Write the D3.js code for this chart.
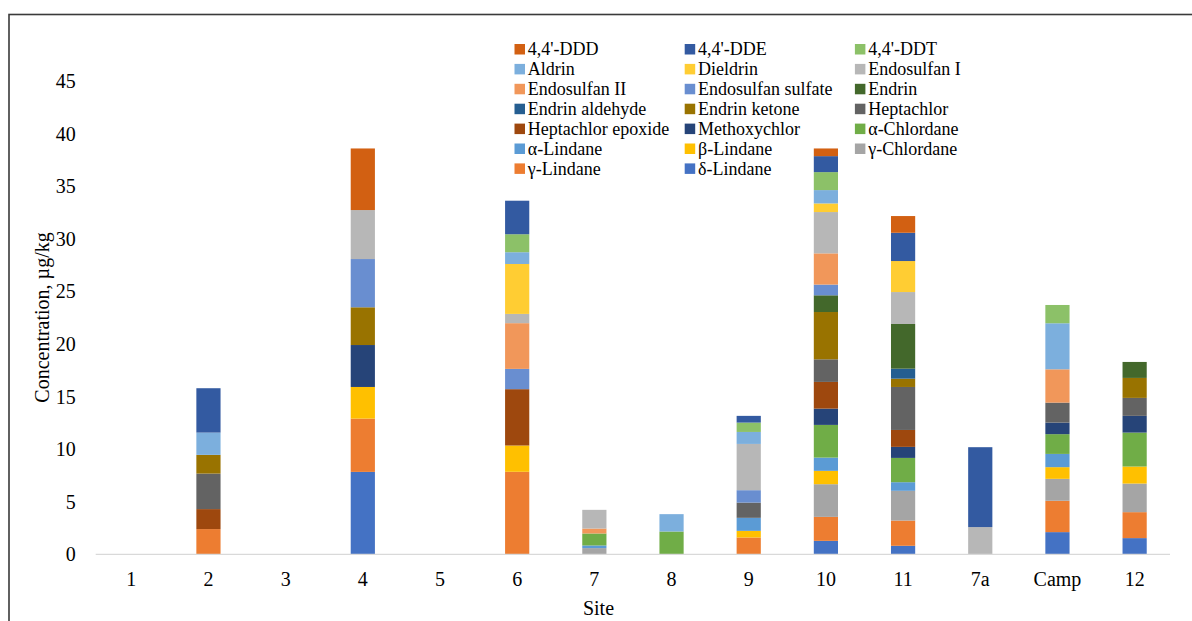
<!DOCTYPE html>
<html>
<head>
<meta charset="utf-8">
<script src="https://cdn.jsdelivr.net/npm/d3@7"></script>
<style>
	body { margin: 0; background: #fff; }
	text { font-family: 'Liberation Serif', 'Times New Roman', serif; fill: #000; }
</style>
</head>
<body>
<div id="graph"></div>
<script>
var sites = ['1', '2', '3', '4', '5', '6', '7', '8', '9', '10', '11', '7a', 'Camp', '12']

// one array per compound, values in µg/kg per site
var ddd               = [0, 0, 0, 5.86, 0, 0, 0, 0, 0, 0.73, 1.59, 0, 0, 0]
var dde               = [0, 4.22, 0, 0, 0, 3.19, 0, 0, 0.64, 1.52, 2.69, 7.60, 0, 0]
var ddt               = [0, 0, 0, 0, 0, 1.71, 0, 0, 0.89, 1.71, 0, 0, 1.74, 0]
var aldrin            = [0, 2.12, 0, 0, 0, 1.12, 0, 1.65, 1.14, 1.27, 0, 0, 4.38, 0]
var dieldrin          = [0, 0, 0, 0, 0, 4.75, 0, 0, 0, 0.82, 2.95, 0, 0, 0]
var endosulfanI       = [0, 0, 0, 4.66, 0, 0.88, 1.78, 0, 4.40, 3.93, 3.04, 2.59, 0, 0]
var endosulfanII      = [0, 0, 0, 0, 0, 4.35, 0.47, 0, 0, 2.97, 0, 0, 3.17, 0]
var endosulfanSulfate = [0, 0, 0, 4.59, 0, 1.93, 0, 0, 1.18, 1.02, 0, 0, 0, 0]
var endrin            = [0, 0, 0, 0, 0, 0, 0, 0, 0, 1.59, 4.25, 0, 0, 1.52]
var endrinAldehyde    = [0, 0, 0, 0, 0, 0, 0, 0, 0, 0, 0.95, 0, 0, 0]
var endrinKetone      = [0, 1.78, 0, 3.59, 0, 0, 0, 0, 0, 4.50, 0.79, 0, 0, 1.90]
var heptachlor        = [0, 3.38, 0, 0, 0, 0, 0, 0, 1.45, 2.15, 4.09, 0, 1.90, 1.71]
var heptachlorEpoxide = [0, 1.90, 0, 0, 0, 5.36, 0, 0, 0, 2.54, 1.61, 0, 0, 0]
var methoxychlor      = [0, 0, 0, 3.99, 0, 0, 0, 0, 0, 1.55, 1.05, 0, 1.10, 1.59]
var aChlordane        = [0, 0, 0, 0, 0, 0, 1.14, 2.17, 0, 3.11, 2.31, 0, 1.88, 3.23]
var aLindane          = [0, 0, 0, 0, 0, 0, 0.25, 0, 1.24, 1.26, 0.82, 0, 1.26, 0]
var bLindane          = [0, 0, 0, 3.01, 0, 2.50, 0, 0, 0.63, 1.27, 0, 0, 1.11, 1.62]
var gChlordane        = [0, 0, 0, 0, 0, 0, 0.59, 0, 0, 3.11, 2.83, 0, 2.09, 2.72]
var gLindane          = [0, 2.40, 0, 5.07, 0, 7.85, 0, 0, 1.60, 2.28, 2.40, 0, 2.98, 2.47]
var dLindane          = [0, 0, 0, 7.84, 0, 0, 0, 0, 0, 1.28, 0.81, 0, 2.11, 1.54]

// legend order (stacking goes the other way round)
var seriesNames = ["4,4'-DDD", "4,4'-DDE", "4,4'-DDT", 'Aldrin', 'Dieldrin', 'Endosulfan I',
	'Endosulfan II', 'Endosulfan sulfate', 'Endrin', 'Endrin aldehyde', 'Endrin ketone', 'Heptachlor',
	'Heptachlor epoxide', 'Methoxychlor', 'α-Chlordane', 'α-Lindane', 'β-Lindane', 'γ-Chlordane',
	'γ-Lindane', 'δ-Lindane']
var seriesValues = [ddd, dde, ddt, aldrin, dieldrin, endosulfanI, endosulfanII, endosulfanSulfate,
	endrin, endrinAldehyde, endrinKetone, heptachlor, heptachlorEpoxide, methoxychlor,
	aChlordane, aLindane, bLindane, gChlordane, gLindane, dLindane]
var seriesColors = ['#D26012', '#335AA1', '#8CC168', '#7CAFDD', '#FFCD33', '#B7B7B7',
	'#F1975A', '#698ED0', '#43682B', '#255E91', '#997300', '#636363',
	'#9E480E', '#264478', '#70AD47', '#5B9BD5', '#FFC000', '#A5A5A5',
	'#ED7D31', '#4472C4']

var yTicks = [0, 5, 10, 15, 20, 25, 30, 35, 40, 45]

var w = 1192
var h = 621
var serif = "'Liberation Serif', 'Times New Roman', serif"

var svg = d3.select('#graph')
	.append('svg')
	.attr('width', w)
	.attr('height', h)

// chart frame
svg.append('rect')
	.attr('x', 9)
	.attr('y', 14.5)
	.attr('width', 1300)
	.attr('height', 700)
	.attr('fill', 'none')
	.attr('stroke', '#3a3a3a')
	.attr('stroke-width', 1.6)

var xScale = d3.scaleBand()
	.domain(sites)
	.range([92.7, 1173.2])
	.paddingInner(0.6865)
	.paddingOuter(0.343)

var yScale = d3.scaleLinear()
	.domain([0, 45])
	.range([554.3, 81.3])

var color = d3.scaleOrdinal()
	.domain(seriesNames)
	.range(seriesColors)

// table for d3.stack
var table = sites.map(function(site, i) {
	var row = { site: site }
	seriesNames.forEach(function(name, k) {
		row[name] = seriesValues[k][i]
	})
	return row
})

var stacked = d3.stack()
	.keys(seriesNames.slice().reverse())(table)

svg.append('g')
	.selectAll('g')
	.data(stacked)
	.enter()
	.append('g')
	.attr('fill', (d) => color(d.key))
	.selectAll('rect')
	.data((d) => d)
	.enter()
	.append('rect')
	.attr('x',      (d) => xScale(d.data.site))
	.attr('width',  xScale.bandwidth())
	.attr('y',      (d) => yScale(d[1]))
	.attr('height', (d) => yScale(d[0]) - yScale(d[1]))

// x axis, the line stops a little short of the plot edges
var xAxis = svg.append('g')
	.attr('transform', 'translate(0,' + yScale(0) + ')')
	.attr('font-family', serif)
	.attr('font-size', 20)
	.call(d3.axisBottom(xScale).tickSize(0).tickPadding(18))
xAxis.select('.domain')
	.attr('d', 'M95.7,0H1170')
	.attr('stroke', '#D9D9D9')
	.attr('stroke-width', 1.3)
xAxis.selectAll('text')
	.style('font-size', '20px')

// y axis
var yAxis = svg.append('g')
	.attr('transform', 'translate(92.7,0)')
	.attr('font-family', serif)
	.attr('font-size', 20)
	.call(d3.axisLeft(yScale).tickValues(yTicks).tickSize(0).tickPadding(17))
yAxis.select('.domain').remove()
yAxis.selectAll('text')
	.style('font-size', '20px')

// axis titles
svg.append('text')
	.attr('transform', 'translate(49,317.5) rotate(-90)')
	.attr('text-anchor', 'middle')
	.style('font-size', '20px')
	.text('Concentration, µg/kg')

svg.append('text')
	.attr('x', 598.5)
	.attr('y', 614.5)
	.attr('text-anchor', 'middle')
	.style('font-size', '20px')
	.text('Site')

// legend, 3 columns
var legend = svg.append('g')
	.selectAll('g')
	.data(seriesNames)
	.enter()
	.append('g')
	.attr('transform', (d, i) => 'translate(' + (514.5 + (i % 3) * 170.2) + ',' + (49.3 + Math.floor(i / 3) * 19.9) + ')')

legend.append('rect')
	.attr('x', 0)
	.attr('y', -5.3)
	.attr('width', 10.5)
	.attr('height', 10.5)
	.attr('fill', (d) => color(d))

legend.append('text')
	.attr('x', 13.3)
	.attr('dy', '0.34em')
	.style('font-size', '18px')
	.text((d) => d)
</script>
</body>
</html>
